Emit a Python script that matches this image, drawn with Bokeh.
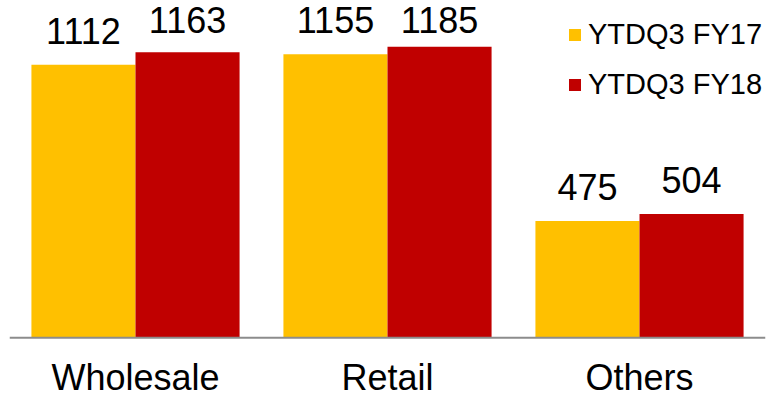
from bokeh.plotting import figure
from bokeh.models import ColumnDataSource, FactorRange, Range1d, Legend, LegendItem, Span
from bokeh.transform import dodge
from bokeh.core.properties import value
from bokeh.embed import file_html
from bokeh.resources import INLINE

categories = ["Wholesale", "Retail", "Others"]
fy17 = [1112, 1155, 475]
fy18 = [1163, 1185, 504]
series_names = ["YTDQ3 FY17", "YTDQ3 FY18"]
colors = ["#FFC000", "#C00000"]

# value labels are kept inside the top of the chart area (as in the original)
LABEL_CAP = 1154

src = ColumnDataSource(dict(
    cat=categories, fy17=fy17, fy18=fy18, zero=[0, 0, 0],
    fy17_y=[min(v, LABEL_CAP) for v in fy17], fy18_y=[min(v, LABEL_CAP) for v in fy18],
    fy17_txt=[str(v) for v in fy17], fy18_txt=[str(v) for v in fy18],
))

p = figure(width=768, height=397, output_backend="svg", toolbar_location=None,
           x_range=FactorRange(factors=categories, range_padding=0),
           y_range=Range1d(-244, 1374),
           min_border_left=9, min_border_right=3, min_border_top=0, min_border_bottom=0)

FONT = "Liberation Sans"
bw = 0.413
off = 0.2065
r1 = p.vbar(x=dodge("cat", -off, range=p.x_range), top="fy17", width=bw, source=src,
            fill_color=colors[0], line_color=None)
r2 = p.vbar(x=dodge("cat", off, range=p.x_range), top="fy18", width=bw, source=src,
            fill_color=colors[1], line_color=None)

p.add_layout(Span(location=0, dimension="width", line_color="#8C8C8C", line_width=2))

p.text(x=dodge("cat", -off, range=p.x_range), y="fy17_y", text="fy17_txt", source=src,
       text_align="center", text_baseline="alphabetic", y_offset=-34,
       text_font=value(FONT), text_font_size="36px", text_color="#000000")
p.text(x=dodge("cat", off, range=p.x_range), y="fy18_y", text="fy18_txt", source=src,
       text_align="center", text_baseline="alphabetic", y_offset=-34,
       text_font=value(FONT), text_font_size="36px", text_color="#000000")

# category labels
p.text(x="cat", y="zero", text="cat", source=src,
       text_align="center", text_baseline="alphabetic", y_offset=40,
       text_font=value(FONT), text_font_size="36px", text_color="#000000")

legend = Legend(items=[LegendItem(label=series_names[0], renderers=[r1]),
                       LegendItem(label=series_names[1], renderers=[r2])],
                location=(558, 296), orientation="vertical",
                glyph_width=15, glyph_height=15, label_standoff=6,
                label_text_font=FONT, label_text_font_size="29px",
                label_text_color="#000000", label_height=15,
                spacing=17, padding=0, margin=0,
                border_line_color=None, background_fill_alpha=0)
p.add_layout(legend)

p.xaxis.visible = False
p.yaxis.visible = False
p.xgrid.grid_line_color = None
p.ygrid.grid_line_color = None
p.outline_line_color = None

open("out.html", "w").write(file_html(p, INLINE))
